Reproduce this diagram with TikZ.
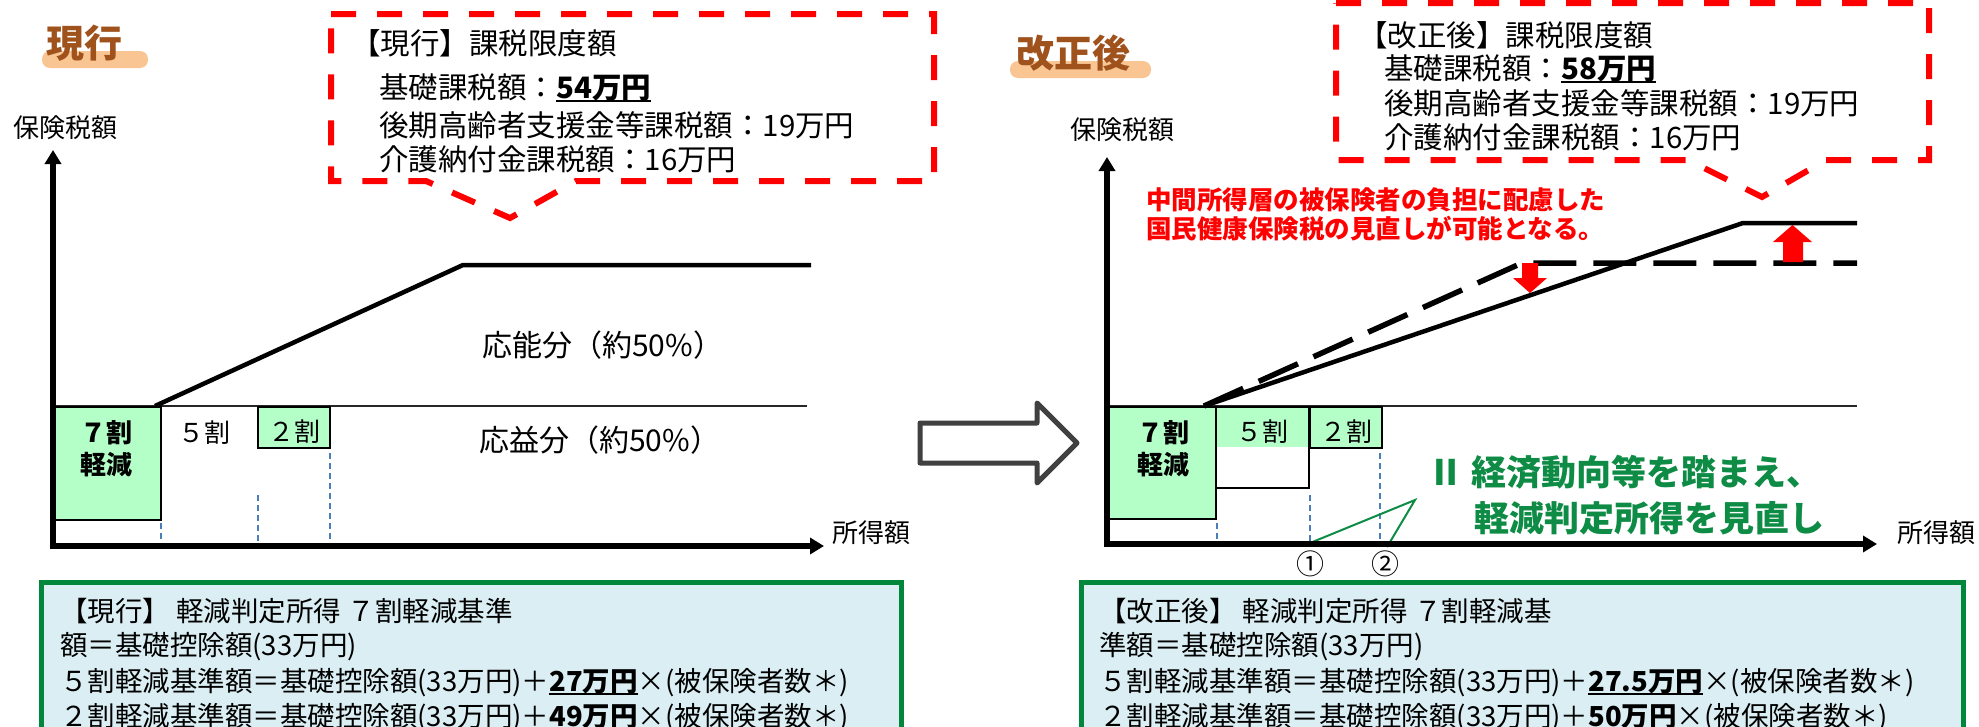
\documentclass[tikz,border=0pt]{standalone}
\usepackage{fontspec}
\setmainfont{Noto Sans CJK JP}
\usetikzlibrary{arrows.meta}
\definecolor{cred}{HTML}{FF0000}
\definecolor{cgreenfill}{HTML}{B4FFC8}
\definecolor{cblue}{HTML}{4A7EBB}
\definecolor{cboxfill}{HTML}{DAEEF3}
\definecolor{cboxline}{HTML}{00873C}
\definecolor{ctitle}{HTML}{A0521C}
\definecolor{chl}{HTML}{F8C593}
\definecolor{cgtext}{HTML}{0E8C45}
\definecolor{carrow}{HTML}{404040}
\newcommand\ulx[1]{\setbox0=\hbox{#1}\rlap{\rule[-0.1em]{\wd0}{0.07em}}\box0}
\begin{document}
\begin{tikzpicture}[x=1pt,y=-1pt,
  txt/.style={inner sep=0pt,anchor=west},
  fA/.style={font=\fontsize{29.5}{34}\selectfont},
  fB/.style={font=\fontsize{27.5}{33}\selectfont},
  fC/.style={font=\fontsize{26}{30}\selectfont},
  fD/.style={font=\fontsize{30}{36}\selectfont},
  fR/.style={font=\fontsize{25.5}{30}\selectfont\bfseries,text=cred},
  fG/.style={font=\fontsize{35}{40}\selectfont\bfseries,text=cgtext},
  fT/.style={font=\fontsize{38}{42}\selectfont\bfseries,text=ctitle},
  lab/.style={inner sep=0pt,font=\fontsize{26}{30}\selectfont},
  labb/.style={inner sep=0pt,font=\fontsize{26}{30}\selectfont\bfseries},
  circ/.style={inner sep=0pt,font=\fontsize{28}{30}\selectfont},
  axis/.style={line width=5.5pt,-{Triangle[length=14pt,width=16pt]}},
  callout/.style={draw=cred,line width=6pt,dash pattern=on 25pt off 21pt},
  gbox/.style={fill=cgreenfill,draw=black,line width=2.5pt},
  bline/.style={draw=black,line width=2.5pt},
  thinl/.style={draw=black!85,line width=1.8pt},
  bdash/.style={draw=cblue,line width=1.8pt,dash pattern=on 6pt off 4pt},
  solidl/.style={draw=black,line width=4.5pt},
  dashl/.style={draw=black,line width=5.5pt,dash pattern=on 43pt off 17pt},
  infobox/.style={fill=cboxfill,draw=cboxline,line width=5pt},
  gline/.style={draw=cgtext,line width=2pt},
  blockarrow/.style={draw=carrow,fill=white,line width=5pt,line join=round},
  redarrow/.style={fill=cred}]
\useasboundingbox (0,0) rectangle (1979,726);
\fill[white] (0,0) rectangle (1979,726);

% ---------- titles ----------
\fill[chl,rounded corners=8pt] (42,51) rectangle (148,68);
\node[inner sep=0pt,fT] (title1) at (84.5,43.5) {現行};
\fill[chl,rounded corners=8pt] (1010,61) rectangle (1151,78);
\node[inner sep=0pt,fT] (title2) at (1073,53.5) {改正後};

\node[lab] (ylab1) at (65,128) {保険税額};
\node[lab] (ylab2) at (1122,130) {保険税額};

% ---------- left callout ----------
\draw[callout] (331,14) -- (934,14) -- (934,181) -- (576,181) -- (510,218) -- (426,181) -- (331,181) -- cycle;
\node[txt,fA] (lc1) at (351,43) {【現行】課税限度額};
\node[txt,fA] (lc2) at (379,88) {基礎課税額：\textbf{\ulx{54万円}}};
\node[txt,fA] (lc3) at (379,125) {後期高齢者支援金等課税額：19万円};
\node[txt,fA] (lc4) at (379,159) {介護納付金課税額：16万円};

% ---------- right callout ----------
\draw[callout] (1336,3) -- (1929,3) -- (1929,160) -- (1826,160) -- (1762,197) -- (1688,160) -- (1336,160) -- cycle;
\node[txt,fA] (rc1) at (1358,35) {【改正後】課税限度額};
\node[txt,fA] (rc2) at (1384,69) {基礎課税額：\textbf{\ulx{58万円}}};
\node[txt,fA] (rc3) at (1384,103) {後期高齢者支援金等課税額：19万円};
\node[txt,fA] (rc4) at (1384,137) {介護納付金課税額：16万円};

% ---------- left chart ----------
\draw[thinl] (54,406) -- (807,406);
\draw[gbox] (54,407) rectangle (161,520);
\draw[gbox] (258,407) rectangle (330,448);
\node[labb] (l7a) at (106,433) {７割};
\node[labb] (l7b) at (106,465) {軽減};
\node[lab] (l5) at (204,433) {５割};
\node[lab] (l2) at (294,432) {２割};
\draw[bdash] (161,523) -- (161,543);
\draw[bdash] (258,495) -- (258,543);
\draw[bdash] (330,453) -- (330,543);
\draw[solidl] (155,406) -- (463,265) -- (811,265);
\node[txt,fD] (lnou) at (482,345) {応能分（約50\%）};
\node[txt,fD] (leki) at (479,440) {応益分（約50\%）};
\draw[axis] (53,549) -- (53,150);
\draw[axis] (51,546) -- (824,546);
\node[txt,fC] (xlab1) at (832,533) {所得額};

% ---------- block arrow ----------
\draw[blockarrow] (920,423) -- (1037,423) -- (1037,403) -- (1077,443) -- (1037,483) -- (1037,463) -- (920,463) -- cycle;

% ---------- right chart ----------
\draw[thinl] (1107,406) -- (1857,406);
\fill[cgreenfill] (1216,407) rectangle (1309,447);
\draw[bline] (1216,407) rectangle (1309,488);
\draw[gbox] (1107,407) rectangle (1216,519);
\draw[gbox] (1310,407) rectangle (1382,448);
\node[labb] (r7a) at (1163,433) {７割};
\node[labb] (r7b) at (1163,465) {軽減};
\node[lab] (r5) at (1262,432) {５割};
\node[lab] (r2) at (1346,432) {２割};
\draw[bdash] (1217,523) -- (1217,543);
\draw[bdash] (1310,495) -- (1310,543);
\draw[bdash] (1380,453) -- (1380,543);
\draw[dashl] (1204,406) -- (1522,263) -- (1857,263);
\draw[solidl] (1204,406) -- (1743,223) -- (1857,223);
\fill[redarrow] (1783,262) -- (1803,262) -- (1803,242) -- (1812,242) -- (1792.5,225) -- (1773,242) -- (1783,242) -- cycle;
\fill[redarrow] (1522,263) -- (1538,263) -- (1538,278) -- (1547,278) -- (1530,293) -- (1513,278) -- (1522,278) -- cycle;
\node[txt,fR] (red1) at (1146,200) {中間所得層の被保険者の負担に配慮した};
\node[txt,fR] (red2) at (1146,229) {国民健康保険税の見直しが可能となる。};
\node[txt,fG] (gr1) at (1428,472) {Ⅱ 経済動向等を踏まえ、};
\node[txt,fG] (gr2) at (1474,518) {軽減判定所得を見直し};
\coordinate (gapex) at (1415,500);
\coordinate (gm1) at (1310,543);
\coordinate (gm2) at (1387,547);
\draw[gline] (gm1) -- (gapex) -- (gm2);
\node[circ] (c1) at (1310,564) {①};
\node[circ] (c2) at (1385,564) {②};
\draw[axis] (1107,547) -- (1107,157);
\draw[axis] (1105,544) -- (1877,544);
\node[txt,fC] (xlab2) at (1897,533) {所得額};

% ---------- bottom boxes ----------
\draw[infobox] (41,582) rectangle (901,760);
\node[txt,fB] (gl1) at (60,611) {【現行】 軽減判定所得 ７割軽減基準};
\node[txt,fB] (gl2) at (60,647) {額＝基礎控除額(33万円)};
\node[txt,fB] (gl3) at (60,683) {５割軽減基準額＝基礎控除額(33万円)＋\textbf{\ulx{27万円}}×(被保険者数＊)};
\node[txt,fB] (gl4) at (60,718) {２割軽減基準額＝基礎控除額(33万円)＋\textbf{\ulx{49万円}}×(被保険者数＊)};

\draw[infobox] (1081,582) rectangle (1963,760);
\node[txt,fB] (gr1b) at (1099,611) {【改正後】 軽減判定所得 ７割軽減基};
\node[txt,fB] (gr2b) at (1099,647) {準額＝基礎控除額(33万円)};
\node[txt,fB] (gr3b) at (1099,683) {５割軽減基準額＝基礎控除額(33万円)＋\textbf{\ulx{27.5万円}}×(被保険者数＊)};
\node[txt,fB] (gr4b) at (1099,718) {２割軽減基準額＝基礎控除額(33万円)＋\textbf{\ulx{50万円}}×(被保険者数＊)};
\end{tikzpicture}
\end{document}
